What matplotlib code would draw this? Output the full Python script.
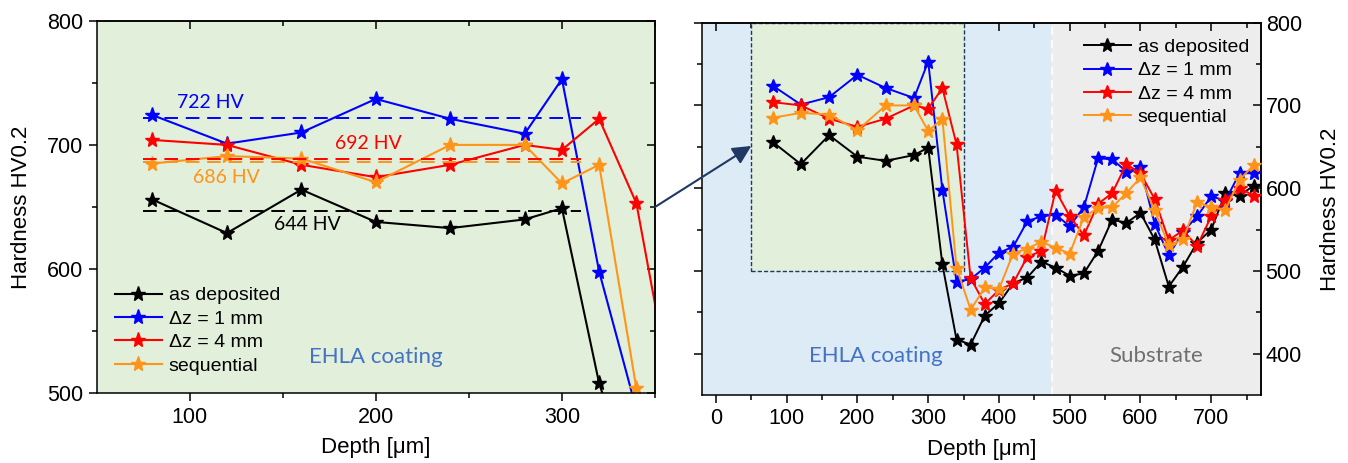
import matplotlib.pyplot as plt
from matplotlib.patches import Rectangle, ConnectionPatch

plt.rcParams['font.family'] = ['Liberation Sans', 'DejaVu Sans']

depth = [80, 120, 160, 200, 240, 280, 300, 320, 340, 360, 380, 400, 420, 440, 460,
         480, 500, 520, 540, 560, 580, 600, 620, 640, 660, 680, 700, 720, 740, 760]

as_dep = [656, 629, 664, 638, 633, 640, 649, 508, 417, 411, 446, 461, 485, 492, 511,
          504, 494, 497, 524, 562, 558, 570, 538, 481, 505, 534, 550, 594, 591, 603]
dz1 = [724, 701, 710, 737, 721, 709, 753, 598, 487, 490, 504, 522, 529, 560, 566,
       568, 554, 577, 636, 635, 620, 625, 557, 519, 547, 566, 590, 585, 618, 618]
dz4 = [704, 700, 684, 674, 684, 700, 696, 721, 653, 491, 460, 477, 485, 517, 524,
       597, 566, 543, 581, 594, 629, 618, 587, 537, 549, 530, 566, 586, 600, 591]
seq = [685, 691, 689, 670, 700, 700, 669, 684, 504, 453, 480, 478, 521, 527, 535,
       528, 521, 565, 576, 577, 594, 613, 573, 531, 538, 583, 577, 574, 610, 628]

names = ['as deposited', 'Δz = 1 mm', 'Δz = 4 mm', 'sequential']
colors = ['black', '#0000FF', '#FF0000', '#FF9419']
series = [as_dep, dz1, dz4, seq]

# mean hardness of the coating (line level, label)
mean_lvl = [647, 722, 689, 686]
mean_txt = ['644 HV', '722 HV', '692 HV', '686 HV']
mean_pos = [(163, 636), (111, 734), (196, 701), (120, 674)]

green = '#E2EFDA'
blue_bg = '#DDEBF7'
grey_bg = '#EDEDED'

fig = plt.figure(figsize=(13.48, 4.63), dpi=100)
ax1 = fig.add_axes([0.0717, 0.1505, 0.4142, 0.8048])
ax2 = fig.add_axes([0.5206, 0.1469, 0.4147, 0.8041])


def style(ax, xt, yt, ylab_side):
    ax.set_xticks(xt)
    ax.set_xticks([v + (xt[1] - xt[0]) / 2 for v in xt[:-1]] + [xt[-1] + (xt[1] - xt[0]) / 2], minor=True)
    ax.set_yticks(yt)
    ax.set_yticks([v + 50 for v in yt[:-1]], minor=True)
    for s in ax.spines.values():
        s.set_linewidth(1.1)
    ax.tick_params(which='both', direction='out', width=1.1, labelsize=15.5)
    ax.tick_params(which='major', length=6)
    ax.tick_params(which='minor', length=3.5)
    top = ax.secondary_xaxis('top')
    top.set_xticks(ax.get_xticks())
    top.set_xticks(ax.get_xticks(minor=True), minor=True)
    top.tick_params(which='both', direction='in', width=1.1, labeltop=False)
    top.tick_params(which='major', length=6)
    top.tick_params(which='minor', length=3.5)
    side = ax.secondary_yaxis('right')
    side.set_yticks(yt)
    side.set_yticks([v + 50 for v in yt[:-1]], minor=True)
    side.tick_params(which='both', direction='in', width=1.1, labelsize=15.5)
    side.tick_params(which='major', length=6)
    side.tick_params(which='minor', length=3.5)
    for a in (top, side):
        for s in a.spines.values():
            s.set_linewidth(1.1)
    if ylab_side == 'left':
        side.tick_params(labelright=False)
        ax.set_ylabel('Hardness HV0.2', fontsize=16, labelpad=11)
    else:
        ax.tick_params(axis='y', labelleft=False)
        side.set_ylabel('Hardness HV0.2', fontsize=16, labelpad=13)
    ax.set_xlabel('Depth [μm]', fontsize=16, labelpad=7)


# left: zoom on the coating
ax1.set_facecolor(green)
ax1.set_xlim(50, 350)
ax1.set_ylim(500, 800)
for n, c, v in zip(names, colors, series):
    ax1.plot(depth, v, color=c, lw=1.5, marker='*', ms=11, label=n)
for lvl, txt, (tx, ty), c in zip(mean_lvl, mean_txt, mean_pos, colors):
    ax1.plot([75, 310], [lvl, lvl], color=c, lw=1.4, dashes=(7, 4))
    ax1.text(tx, ty, txt, color=c, fontsize=14, family='Lato', ha='center', va='center')
ax1.text(200, 529, 'EHLA coating', color='#4472C4', fontsize=16, family='Lato',
         ha='center', va='center')
ax1.legend(loc='lower left', bbox_to_anchor=(0.033, 0.05), frameon=False, fontsize=14,
           borderpad=0, borderaxespad=0, handlelength=2.4, handletextpad=0.35, labelspacing=0.3)
style(ax1, [100, 200, 300], [500, 600, 700, 800], 'left')

# right: full profile
ax2.set_xlim(-20, 770)
ax2.set_ylim(350, 800)
ax2.axvspan(-20, 475, color=blue_bg, zorder=0)
ax2.axvspan(475, 770, color=grey_bg, zorder=0)
ax2.axvline(475, color='white', lw=1.2, dashes=(5, 3), zorder=1)
ax2.add_patch(Rectangle((50, 500), 300, 300, facecolor=green, edgecolor='#1F3864',
                        lw=1.0, ls=(0, (3, 1.5)), zorder=1))
for n, c, v in zip(names, colors, series):
    ax2.plot(depth, v, color=c, lw=1.4, marker='*', ms=10, label=n, zorder=3)
ax2.text(226, 397, 'EHLA coating', color='#4472C4', fontsize=16, family='Lato',
         ha='center', va='center')
ax2.text(622, 397, 'Substrate', color='#707070', fontsize=16, family='Lato',
         ha='center', va='center')
ax2.legend(loc='upper left', bbox_to_anchor=(0.684, 0.958), frameon=False, fontsize=14,
           borderpad=0, borderaxespad=0, handlelength=2.4, handletextpad=0.35, labelspacing=0.3)
style(ax2, [0, 100, 200, 300, 400, 500, 600, 700], [400, 500, 600, 700, 800], 'right')

arrow = ConnectionPatch(xyA=(350, 650), coordsA=ax1.transData,
                        xyB=(50, 651), coordsB=ax2.transData,
                        arrowstyle='-|>', mutation_scale=28, color='#1F3864', lw=1.5)
fig.add_artist(arrow)

fig.savefig('out.png', dpi=100)
